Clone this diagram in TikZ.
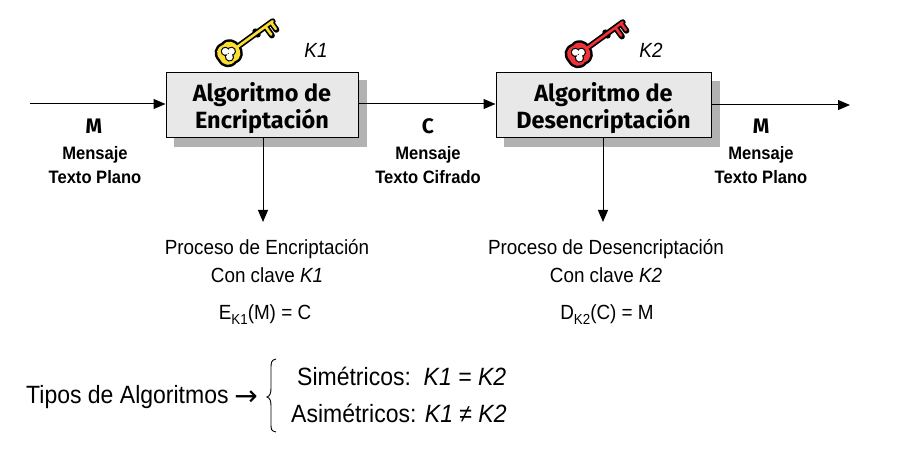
\documentclass[tikz,border=0pt]{standalone}
\usepackage{fontspec}
\setmainfont[FakeStretch=0.92]{Liberation Sans}
\newfontfamily\comicf{Fira Sans}
\newcommand{\lowsub}[1]{\raisebox{-5pt}{\fontsize{14.5}{15}\selectfont #1}}
\usetikzlibrary{arrows.meta,calc}
\tikzset{
  algobox/.style={draw=black,line width=1pt,fill=black!9,minimum height=66pt,inner sep=0pt,align=center,font=\comicf\fontsize{23.5}{27}\selectfont\bfseries},
  shadowrect/.style={fill=black!30,draw=none},
  flow/.style={draw=black,line width=1pt,-{Triangle[length=12pt,width=10pt]}},
  caplabel/.style={font=\fontsize{18}{24}\selectfont\bfseries,align=center,inner sep=0pt},
  letterlabel/.style={font=\comicf\fontsize{21}{22}\selectfont\bfseries,inner sep=0pt},
  desc/.style={font=\fontsize{20.5}{28}\selectfont,align=center,inner sep=0pt},
  eqn/.style={font=\fontsize{20.5}{24}\selectfont,inner sep=0pt},
  keylabel/.style={font=\fontsize{20.5}{20}\selectfont\itshape,inner sep=0pt},
  big/.style={font=\fontsize{25}{30}\selectfont,inner sep=0pt},
  keyicon/.pic={
    % local frame: head centre at origin, shaft along +x
    \draw[black,line width=6pt,line cap=round] (8,0)--(54,0) (34,-2)--(34,2) (45,0)--(45,11) (52,0)--(52,9);
    \path[fill=black,draw=black,line width=5pt,line join=round]
      (0,-10) .. controls (7,-12) and (11,-6) .. (11,0) .. controls (11,6) and (7,12) .. (0,10)
      .. controls (-7,12) and (-12,7) .. (-11,0) .. controls (-12,-7) and (-7,-12) .. (0,-10) -- cycle;
    \draw[keycol,line width=2.6pt,line cap=round] (8,0)--(54,0) (45,0)--(45,10) (52,0)--(52,8);
    \path[fill=keycol]
      (0,-10) .. controls (7,-12) and (11,-6) .. (11,0) .. controls (11,6) and (7,12) .. (0,10)
      .. controls (-7,12) and (-12,7) .. (-11,0) .. controls (-12,-7) and (-7,-12) .. (0,-10) -- cycle;
    \fill[black] (-2,-3.5) circle (4.6pt) (-2,3.5) circle (4.6pt) (3,0) circle (4.6pt);
    \fill[white] (-2,-3.5) circle (3.4pt) (-2,3.5) circle (3.4pt) (3,0) circle (3.4pt);
  }
}
\definecolor{keycolA}{RGB}{250,222,50}
\definecolor{keycolB}{RGB}{240,50,55}
\begin{document}
\begin{tikzpicture}[x=1pt,y=-1pt]
\useasboundingbox[fill=white] (0,0) rectangle (899,462);
% shadows
\fill[shadowrect] (174,80) rectangle (367,147);
\fill[shadowrect] (504,81) rectangle (720,147);
% boxes
\node[algobox,minimum width=192pt,minimum height=65pt] (enc) at (262,105.5) {\rule{0pt}{24pt}Algoritmo de\\Encriptación};
\node[algobox,minimum width=215pt,minimum height=65pt] (dec) at (603.5,105.5) {\rule{0pt}{24pt}Algoritmo de\\Desencriptación};
% keys
\colorlet{keycol}{keycolA}
\pic[rotate=36] at (229,53) {keyicon};
\colorlet{keycol}{keycolB}
\pic[rotate=36] at (579,54) {keyicon};
\node[keylabel] (k1) at (316,50) {K1};
\node[keylabel] (k2) at (651,50) {K2};
% connectors
\coordinate (inp) at (30,104);
\coordinate (out) at (850,105);
\coordinate (d1) at (263,222);
\coordinate (d2) at (603,222);
\draw[flow] (inp) -- (enc.west |- inp);
\draw[flow] (enc.east |- inp) -- (dec.west |- inp);
\draw[flow] (dec.east |- out) -- (out);
\draw[flow] (enc.south -| d1) -- (d1);
\draw[flow] (dec.south -| d2) -- (d2);
% labels
\node[letterlabel] (m1) at (94,126) {M};
\node[caplabel] (t1) at (95,165) {Mensaje\\Texto Plano};
\node[letterlabel] (c1) at (428,126) {C};
\node[caplabel] (t2) at (428,165) {Mensaje\\Texto Cifrado};
\node[letterlabel] (m2) at (761,126) {M};
\node[caplabel] (t3) at (761,165) {Mensaje\\Texto Plano};
\node[desc] (p1) at (267,261) {Proceso de Encriptación\\Con clave \textit{K1}};
\node[desc] (p2) at (606,261) {Proceso de Desencriptación\\Con clave \textit{K2}};
\node[eqn] (e1) at (265,315) {E\lowsub{K1}(M) = C};
\node[eqn] (e2) at (607,315) {D\lowsub{K2}(C) = M};
% bottom
\node[big,anchor=west] (tipos) at (26,397) {Tipos de Algoritmos};
\node[inner sep=0pt] (arr) at (246,398) {\fontspec{DejaVu Sans}\fontsize{28}{30}\selectfont →};
\draw[line width=0.9pt] (276,359) .. controls (271,360) and (271,363) .. (271,368) -- (271,388) .. controls (271,393) and (270,396) .. (267,397) .. controls (270,398) and (271,401) .. (271,406) -- (271,424) .. controls (271,429) and (271,431) .. (276,432);
\node[big,anchor=west] (s) at (297,376) {Simétricos:\ \ \textit{K1 = K2}};
\node[big,anchor=west] (a) at (291,413) {Asimétricos: \textit{K1 ≠ K2}};
\end{tikzpicture}
\end{document}
